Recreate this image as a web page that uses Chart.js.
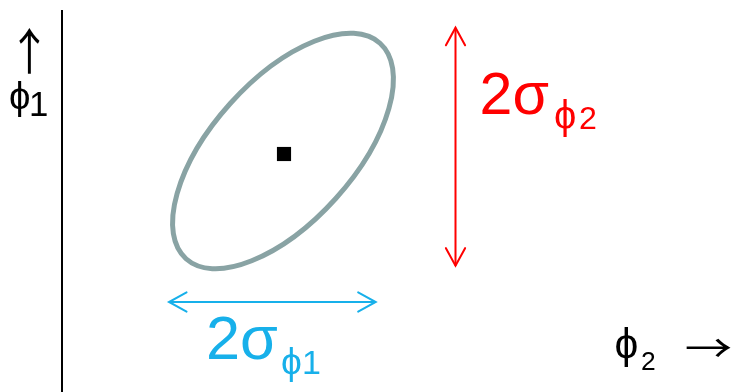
<!DOCTYPE html>
<html>
<head>
<meta charset="utf-8">
<script src="https://cdn.jsdelivr.net/npm/chart.js@4/dist/chart.umd.min.js"></script>
<style>
  html, body { margin: 0; padding: 0; background: #fff; }
  #wrap { width: 732px; height: 392px; position: relative; }
</style>
</head>
<body>
<div id="wrap"><canvas id="sigmaChart"></canvas></div>
<script>
// mean of (phi2, phi1) and the spread ellipse around it
const meanPoint = [2.22, 2.38];
const ellipseCenter = [2.21, 2.41];
const ellipseAxes = [1.45, 0.71];   // semi-major, semi-minor
const ellipseAngle = [48];          // degrees, major axis vs phi2 axis

// the two 2-sigma extents
const sigmaPhi2Ends = [[3.935, 3.643], [3.935, 1.263]];
const sigmaPhi1Ends = [[1.07, 0.90], [3.137, 0.90]];

const sigmaLabels = ['2σ', '2σ'];
const sigmaSubs = ['ϕ', 'ϕ'];
const sigmaSubIdx = ['2', '1'];
const axisNames = ['ϕ', 'ϕ'];
const axisSubs = ['1', '2'];
const axisArrows = ['↑', '→'];

const RED = '#ff0000';
const CYAN = '#17b0ea';
const FONT = '"Liberation Sans", "DejaVu Sans", Arial, sans-serif';
const ARROW_FONT = '"Noto Sans CJK SC", "DejaVu Sans", sans-serif';

function inkBox(ctx, str, size, family) {
  ctx.font = size.toFixed(2) + 'px ' + (family || FONT);
  const m = ctx.measureText(str);
  return {
    l: m.actualBoundingBoxLeft, a: m.actualBoundingBoxAscent,
    w: m.actualBoundingBoxLeft + m.actualBoundingBoxRight,
    h: m.actualBoundingBoxAscent + m.actualBoundingBoxDescent
  };
}

// draws text so that its ink fills [top, bottom]; anchored by ink left (or right)
function inkText(ctx, str, color, edge, top, bottom, alignRight) {
  ctx.save();
  const size = 100 * (bottom - top) / inkBox(ctx, str, 100).h;
  const b = inkBox(ctx, str, size);
  const left = alignRight ? edge - b.w : edge;
  ctx.fillStyle = color;
  ctx.textAlign = 'left';
  ctx.textBaseline = 'alphabetic';
  ctx.fillText(str, left + b.l, top + b.a);
  ctx.restore();
}

// fits the ink into a box, stretching one way if needed
function inkTextBox(ctx, str, color, left, right, top, bottom, family) {
  ctx.save();
  const size = 100 * (bottom - top) / inkBox(ctx, str, 100, family).h;
  const b = inkBox(ctx, str, size, family);
  const sx = (right - left) / b.w;
  ctx.fillStyle = color;
  ctx.textAlign = 'left';
  ctx.textBaseline = 'alphabetic';
  ctx.translate(left, 0);
  ctx.scale(sx, 1);
  ctx.fillText(str, b.l, top + b.a);
  ctx.restore();
}

function drawHead(ctx, tx, ty, fx, fy, color) {
  const ang = Math.atan2(ty - fy, tx - fx);
  const len = 20, spread = 0.5;
  ctx.save();
  ctx.strokeStyle = color;
  ctx.lineWidth = 2;
  ctx.lineCap = 'round';
  ctx.beginPath();
  ctx.moveTo(tx - len * Math.cos(ang - spread), ty - len * Math.sin(ang - spread));
  ctx.lineTo(tx, ty);
  ctx.lineTo(tx - len * Math.cos(ang + spread), ty - len * Math.sin(ang + spread));
  ctx.stroke();
  ctx.restore();
}

// ellipse, arrow heads, labels
const sketchPlugin = {
  id: 'sketch',
  beforeDatasetsDraw(chart) {
    const { ctx, scales: { x, y } } = chart;
    const cx = x.getPixelForValue(ellipseCenter[0]);
    const cy = y.getPixelForValue(ellipseCenter[1]);
    const rx = x.getPixelForValue(ellipseAxes[0]) - x.getPixelForValue(0);
    const ry = x.getPixelForValue(ellipseAxes[1]) - x.getPixelForValue(0);
    ctx.save();
    ctx.beginPath();
    ctx.ellipse(cx, cy, rx, ry, -ellipseAngle[0] * Math.PI / 180, 0, Math.PI * 2);
    ctx.strokeStyle = '#89a3a4';
    ctx.lineWidth = 5;
    ctx.stroke();
    ctx.restore();
  },
  afterDatasetsDraw(chart) {
    const { ctx } = chart;
    chart.data.datasets.forEach((ds, i) => {
      if (!ds.arrow) return;
      const pts = chart.getDatasetMeta(i).data;
      const a = pts[0], b = pts[pts.length - 1];
      drawHead(ctx, b.x, b.y, a.x, a.y, ds.borderColor);
      drawHead(ctx, a.x, a.y, b.x, b.y, ds.borderColor);
    });

    // 2 sigma labels
    inkText(ctx, sigmaLabels[0], RED, 481.5, 71.5, 113.5);
    inkText(ctx, sigmaSubs[0], RED, 555, 99, 136.5);
    inkText(ctx, sigmaSubIdx[0], RED, 596, 106.5, 129, true);

    inkText(ctx, sigmaLabels[1], CYAN, 209, 315.5, 359);
    inkText(ctx, sigmaSubs[1], CYAN, 282, 346.5, 381.5);
    inkText(ctx, sigmaSubIdx[1], CYAN, 320, 351, 374.5, true);

    // axis names
    inkText(ctx, axisNames[0], '#000', 10, 81, 117);
    inkText(ctx, axisSubs[0], '#000', 47, 92, 116, true);
    inkText(ctx, axisNames[1], '#000', 615.5, 326.5, 366.5);
    inkText(ctx, axisSubs[1], '#000', 655, 351.5, 370, true);

    inkTextBox(ctx, axisArrows[0], '#000', 19, 40, 28, 74, ARROW_FONT);
    inkTextBox(ctx, axisArrows[1], '#000', 686, 731.5, 338, 356, ARROW_FONT);
  }
};

const toXY = arr => arr.map(p => ({ x: p[0], y: p[1] }));

new Chart(document.getElementById('sigmaChart'), {
  type: 'scatter',
  data: {
    datasets: [
      {
        data: [{ x: meanPoint[0], y: meanPoint[1] }],
        pointStyle: 'rect',
        pointRadius: 10,
        backgroundColor: '#000',
        borderWidth: 0
      },
      {
        data: toXY(sigmaPhi2Ends),
        showLine: true,
        arrow: true,
        borderColor: RED,
        borderWidth: 2,
        pointRadius: 0
      },
      {
        data: toXY(sigmaPhi1Ends),
        showLine: true,
        arrow: true,
        borderColor: CYAN,
        borderWidth: 2,
        pointRadius: 0
      }
    ]
  },
  options: {
    responsive: true,
    maintainAspectRatio: false,
    animation: false,
    layout: { autoPadding: false, padding: { left: 62, top: 11, right: 0, bottom: 0 } },
    plugins: { legend: { display: false }, tooltip: { enabled: false } },
    scales: {
      x: { type: 'linear', display: false, min: 0, max: 6.7 },
      y: {
        type: 'linear', min: 0, max: 3.81,
        ticks: { display: false },
        grid: { display: false, drawTicks: false },
        border: { display: true, color: '#000', width: 2 }
      }
    }
  },
  plugins: [sketchPlugin]
});
</script>
</body>
</html>
